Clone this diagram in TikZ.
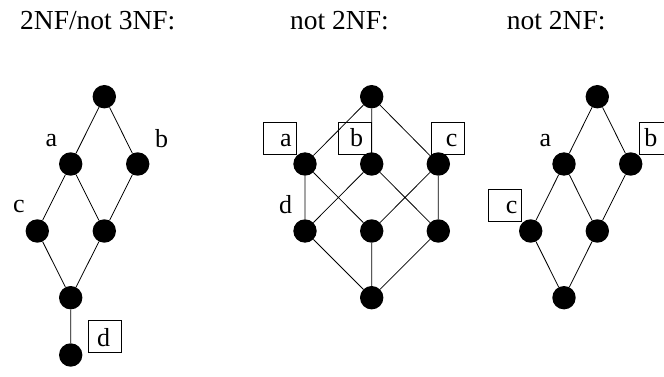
\documentclass[tikz,border=0pt]{standalone}
\usepackage{fontspec}
\setmainfont{Liberation Serif}
\begin{document}
\begin{tikzpicture}[x=1pt,y=-1pt,
  dot/.style={circle,fill=black,inner sep=0pt,minimum size=23.4pt},
  edge/.style={line width=0.8pt},
  lbl/.style={font=\fontsize{26}{30}\selectfont,inner sep=0pt,anchor=base},
  ttl/.style={font=\fontsize{27.5}{32}\selectfont,inner sep=0pt,anchor=base west},
  tag/.style={draw,line width=0.8pt,minimum width=33pt,minimum height=32pt,inner sep=0pt,anchor=north west},
]
\useasboundingbox (0,0) rectangle (664,377);
% titles
\node[ttl] (h1) at (20,29.3) {2NF/not 3NF:};
\node[ttl] (h2) at (290,29.3) {not 2NF:};
\node[ttl] (h3) at (506.7,29.3) {not 2NF:};
% boxes
\node[tag] (bx1) at (88.3,320) {};
\node[tag] (bx2a) at (263.3,121.7) {};
\node[tag] (bx2b) at (338.3,121.7) {};
\node[tag] (bx2c) at (430.7,121.7) {};
\node[tag] (bx3b) at (639,121.7) {};
\node[tag] (bx3c) at (488.3,188.7) {};
% diagram 1
\node[dot] (t1) at (104.3,96.7) {};
\node[dot] (a1) at (70.7,164) {};
\node[dot] (b1) at (137.7,164) {};
\node[dot] (c1) at (37.3,231) {};
\node[dot] (m1) at (104.3,231) {};
\node[dot] (z1) at (70.7,297.7) {};
\node[dot] (d1) at (70.7,355) {};
\draw[edge] (t1)--(a1) (t1)--(b1) (a1)--(c1) (a1)--(m1) (b1)--(m1) (c1)--(z1) (m1)--(z1) (z1)--(d1);
% diagram 2
\node[dot] (t2) at (371.7,96.7) {};
\node[dot] (p2) at (305,164) {};
\node[dot] (q2) at (371.7,164) {};
\node[dot] (r2) at (438.3,164) {};
\node[dot] (u2) at (305,231) {};
\node[dot] (v2) at (371.7,231) {};
\node[dot] (w2) at (438.3,231) {};
\node[dot] (z2) at (371.7,297.7) {};
\draw[edge] (t2)--(p2) (t2)--(q2) (t2)--(r2)
  (p2)--(u2) (p2)--(v2) (q2)--(u2) (q2)--(w2) (r2)--(v2) (r2)--(w2)
  (u2)--(z2) (v2)--(z2) (w2)--(z2);
% diagram 3
\node[dot] (t3) at (597.3,96.7) {};
\node[dot] (a3) at (564,164) {};
\node[dot] (b3) at (630.7,164) {};
\node[dot] (c3) at (530.7,231) {};
\node[dot] (m3) at (597.3,231) {};
\node[dot] (z3) at (564,297.7) {};
\draw[edge] (t3)--(a3) (t3)--(b3) (a3)--(c3) (a3)--(m3) (b3)--(m3) (c3)--(z3) (m3)--(z3);
% labels
\node[lbl] (la1) at (51.3,146.7) {a};
\node[lbl] (lb1) at (161.5,147.3) {b};
\node[lbl] (lc1) at (18.8,212.5) {c};
\node[lbl] (ld1) at (103.7,346) {d};
\node[lbl] (la2) at (285.8,146.7) {a};
\node[lbl] (lb2) at (356.7,146.7) {b};
\node[lbl] (lc2) at (451.7,146.7) {c};
\node[lbl] (ld2) at (285.5,213.5) {d};
\node[lbl] (la3) at (545.3,146.7) {a};
\node[lbl] (lb3) at (650.8,146.7) {b};
\node[lbl] (lc3) at (511.7,213.3) {c};
\end{tikzpicture}
\end{document}
